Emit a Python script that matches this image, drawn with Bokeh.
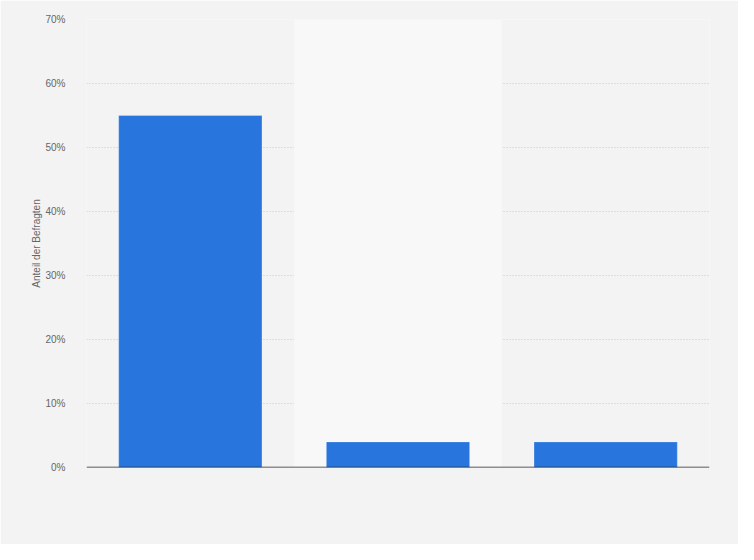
from bokeh.plotting import figure
from bokeh.models import PrintfTickFormatter, FixedTicker, Range1d, FactorRange, Span
from bokeh.embed import file_html
from bokeh.resources import INLINE

categories = ["Kategorie 1", "Kategorie 2", "Kategorie 3"]
values = [55, 4, 4]
band_categories = ["Kategorie 2"]
y_ticks = [0, 10, 20, 30, 40, 50, 60, 70]

BG = "#f3f3f3"

p = figure(width=738, height=544, output_backend="svg", toolbar_location=None,
           x_range=FactorRange(*categories, range_padding=0),
           y_range=Range1d(0, 70),
           min_border_left=86, min_border_right=29, min_border_top=19, min_border_bottom=77)
p.background_fill_color = BG
p.border_fill_color = BG
p.outline_line_color = None

# lighter band behind the middle category
p.vbar(x=band_categories, top=[70], width=1.0, fill_color="#f8f8f8", line_color=None)

p.vbar(x=categories, top=values, width=0.69, fill_color="#2876dd",
       line_color="#ffffff", line_alpha=0.25, line_width=1)

p.xaxis.visible = False
p.xgrid.visible = False

p.add_layout(Span(location=0, dimension="width", line_color="#262626", line_width=1.5))

p.yaxis.ticker = FixedTicker(ticks=y_ticks)
p.yaxis.formatter = PrintfTickFormatter(format="%d%%")
p.yaxis.axis_line_color = None
p.yaxis.major_tick_line_color = None
p.yaxis.minor_tick_line_color = None
p.yaxis.major_label_text_font = "Liberation Sans"
p.yaxis.major_label_text_font_size = "10px"
p.yaxis.major_label_text_color = "#666666"
p.yaxis.major_label_standoff = 15
p.yaxis.axis_label = "Anteil der Befragten"
p.yaxis.axis_label_text_font = "Liberation Sans"
p.yaxis.axis_label_text_font_style = "normal"
p.yaxis.axis_label_text_font_size = "10px"
p.yaxis.axis_label_text_color = "#666666"
p.yaxis.axis_label_standoff = 0

p.ygrid.grid_line_color = "#c8c8c8"
p.ygrid.grid_line_dash = "1 2"
p.ygrid.grid_line_width = 1

open("out.html", "w").write(file_html(p, INLINE))
